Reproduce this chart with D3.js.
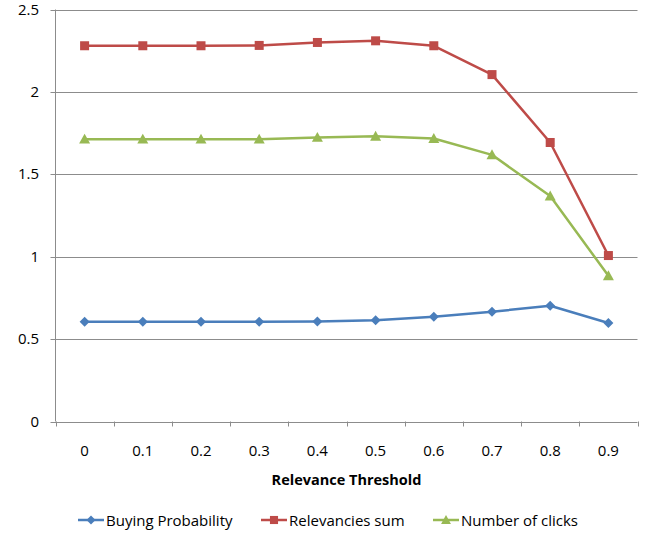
<!DOCTYPE html>
<html>
<head>
<meta charset="utf-8">
<script src="https://cdn.jsdelivr.net/npm/d3@7"></script>
<style>
  body { margin: 0; background: #fff; }
  svg text { font-family: "Open Sans", "Noto Sans", sans-serif; }
</style>
</head>
<body>
<svg id="chart" width="659" height="533"></svg>
<script>
// Relevance threshold categories
const thresholds = ["0", "0.1", "0.2", "0.3", "0.4", "0.5", "0.6", "0.7", "0.8", "0.9"];
const buyingProbability = [0.605, 0.605, 0.605, 0.605, 0.607, 0.614, 0.635, 0.666, 0.702, 0.598];
const relevanciesSum = [2.28, 2.28, 2.28, 2.282, 2.30, 2.31, 2.28, 2.105, 1.693, 1.007];
const numberOfClicks = [1.713, 1.713, 1.713, 1.713, 1.724, 1.731, 1.717, 1.618, 1.368, 0.884];
const yTicks = [0, 0.5, 1, 1.5, 2, 2.5];

const series = [
  { name: "Buying Probability", values: buyingProbability, color: "#4A7EBB", marker: "diamond" },
  { name: "Relevancies sum", values: relevanciesSum, color: "#BE4B48", marker: "square" },
  { name: "Number of clicks", values: numberOfClicks, color: "#98B954", marker: "triangle" }
];

const svg = d3.select("#chart");
const plotLeft = 55.5, plotRight = 637.5, plotTop = 9.5, plotBottom = 421.5;

const x = d3.scaleBand().domain(thresholds).range([plotLeft, plotRight]);
const y = d3.scaleLinear().domain([0, 2.5]).range([plotBottom, plotTop]);

// Horizontal gridlines with short ticks on the left
svg.append("g").selectAll("line").data(yTicks).join("line")
  .attr("x1", plotLeft - 5).attr("x2", plotRight)
  .attr("y1", d => Math.round(y(d)) + 0.5).attr("y2", d => Math.round(y(d)) + 0.5)
  .attr("stroke", "#8c8c8c").attr("stroke-width", 1);

// Y axis line
svg.append("line").attr("x1", plotLeft).attr("x2", plotLeft).attr("y1", plotTop).attr("y2", plotBottom)
  .attr("stroke", "#8c8c8c");

// Y tick labels
svg.append("g").selectAll("text").data(yTicks).join("text")
  .attr("x", 39).attr("y", d => y(d) + 5)
  .attr("text-anchor", "end").attr("font-size", 15).attr("fill", "#000")
  .text(d => d3.format("")(d));

// X axis ticks at band boundaries
const boundaries = thresholds.map(t => x(t)).concat([plotRight]);
svg.append("g").selectAll("line").data(boundaries).join("line")
  .attr("x1", d => Math.round(d) + 0.5).attr("x2", d => Math.round(d) + 0.5)
  .attr("y1", plotBottom).attr("y2", plotBottom + 5)
  .attr("stroke", "#8c8c8c");

// X tick labels
svg.append("g").selectAll("text").data(thresholds).join("text")
  .attr("x", d => x(d) + x.bandwidth() / 2).attr("y", 456)
  .attr("text-anchor", "middle").attr("font-size", 15).attr("fill", "#000")
  .text(d => d);

// X axis title
svg.append("text").attr("x", (plotLeft + plotRight) / 2).attr("y", 485)
  .attr("text-anchor", "middle").attr("font-size", 14.5).attr("font-weight", "bold")
  .text("Relevance Threshold");

const cx = d => x(d) + x.bandwidth() / 2;
const line = d3.line().x(d => cx(d.t)).y(d => y(d.v));

function drawMarker(g, type, color, px, py, scale = 1) {
  if (type === "diamond") {
    const s = 5 * scale;
    g.append("path").attr("d", `M${px},${py - s}L${px + s},${py}L${px},${py + s}L${px - s},${py}Z`)
      .attr("fill", color);
  } else if (type === "square") {
    const s = 4.5 * scale;
    g.append("rect").attr("x", px - s).attr("y", py - s).attr("width", 2 * s).attr("height", 2 * s)
      .attr("fill", color);
  } else {
    const s = 5.5 * scale;
    g.append("path").attr("d", `M${px},${py - s}L${px + s},${py + s * 0.8}L${px - s},${py + s * 0.8}Z`)
      .attr("fill", color);
  }
}

series.forEach(s => {
  const pts = thresholds.map((t, i) => ({ t, v: s.values[i] }));
  const g = svg.append("g");
  g.append("path").datum(pts).attr("d", line)
    .attr("fill", "none").attr("stroke", s.color).attr("stroke-width", 2.5)
    .attr("stroke-linejoin", "round");
  pts.forEach(p => drawMarker(g, s.marker, s.color, cx(p.t), y(p.v)));
});

// Legend
const legendX = [78, 261, 433];
series.forEach((s, i) => {
  const g = svg.append("g");
  const lx = legendX[i], ly = 520;
  g.append("line").attr("x1", lx).attr("x2", lx + 26).attr("y1", ly).attr("y2", ly)
    .attr("stroke", s.color).attr("stroke-width", 2.5);
  drawMarker(g, s.marker, s.color, lx + 13, ly, 0.9);
  g.append("text").attr("x", lx + 28).attr("y", ly + 5.5)
    .attr("font-size", 15).attr("fill", "#000").text(s.name);
});
</script>
</body>
</html>
